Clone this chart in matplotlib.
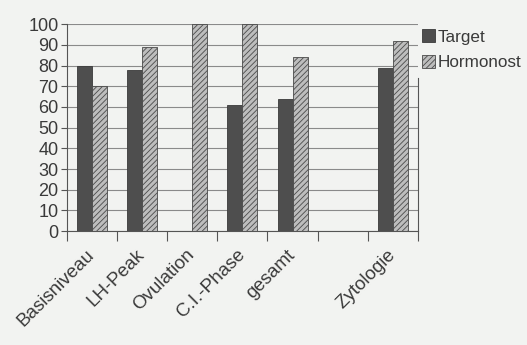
import matplotlib
matplotlib.use("Agg")
import matplotlib.pyplot as plt
import matplotlib.transforms as mtransforms
import numpy as np
from matplotlib.patches import Patch

categories = ["Basisniveau", "LH-Peak", "Ovulation", "C.I.-Phase", "gesamt", "", "Zytologie"]
target = [80, 78, 0, 61, 64, 0, 79]
hormonost = [70, 89, 100, 100, 84, 0, 92]
yticks = list(range(0, 101, 10))

bg = "#f2f3f1"
dark = "#4e4e4e"
light = "#bdbdbd"

plt.rcParams["font.family"] = ["Liberation Sans", "DejaVu Sans"]
plt.rcParams["hatch.color"] = "#5a5a5a"
plt.rcParams["hatch.linewidth"] = 0.6

fig = plt.figure(figsize=(5.27, 3.45), dpi=100, facecolor=bg)
ax = fig.add_axes([0.127, 0.330, 0.666, 0.600])
ax.set_facecolor(bg)

x = np.arange(len(categories))
w = 0.3
ax.bar(x - w / 2, target, w, color=dark, edgecolor="#3a3a3a", linewidth=0.6, zorder=3)
ax.bar(x + w / 2, hormonost, w, color=light, edgecolor="#4a4a4a", linewidth=0.6,
       hatch="//////", zorder=3)

ax.set_xlim(-0.5, len(categories) - 0.5)
ax.set_ylim(0, 100)
ax.set_yticks(yticks)
ax.set_yticklabels([str(v) for v in yticks], fontsize=13, color="#3a3a3a")
ax.yaxis.grid(True, color="#8a8a8a", linewidth=0.8, zorder=0)

ax.set_xticks(np.arange(len(categories) + 1) - 0.5)
ax.set_xticklabels([])
ax.set_xticks(x, minor=True)
ax.set_xticklabels(categories, minor=True, rotation=45, ha="right",
                   rotation_mode="anchor", fontsize=13.5, color="#3a3a3a")
ax.tick_params(axis="x", which="major", direction="out", length=7, width=0.8, color="#555555")
ax.tick_params(axis="x", which="minor", length=0, pad=11)
ax.tick_params(axis="y", direction="out", length=4, width=0.8, color="#555555", pad=2)

offset = mtransforms.ScaledTranslation(-6 / 100, 0, fig.dpi_scale_trans)
for lab in ax.get_xticklabels(minor=True):
    lab.set_transform(lab.get_transform() + offset)

for s in ["left", "bottom", "top"]:
    ax.spines[s].set_color("#555555")
    ax.spines[s].set_linewidth(0.8)
ax.spines["top"].set_visible(False)
ax.spines["right"].set_color("#555555")
ax.spines["right"].set_linewidth(0.8)
ax.spines["right"].set_bounds(0, 74)

handles = [Patch(facecolor=dark, edgecolor="#3a3a3a", linewidth=0.6),
           Patch(facecolor=light, edgecolor="#4a4a4a", linewidth=0.6, hatch="//////")]
fig.legend(handles, ["Target", "Hormonost"], loc="upper left",
           bbox_to_anchor=(0.801, 0.915), frameon=False, fontsize=12.3,
           handlelength=0.75, handleheight=0.75, handletextpad=0.15,
           labelspacing=0.62, borderaxespad=0, borderpad=0, labelcolor="#3a3a3a")

fig.savefig("out.png", dpi=100, facecolor=bg)
